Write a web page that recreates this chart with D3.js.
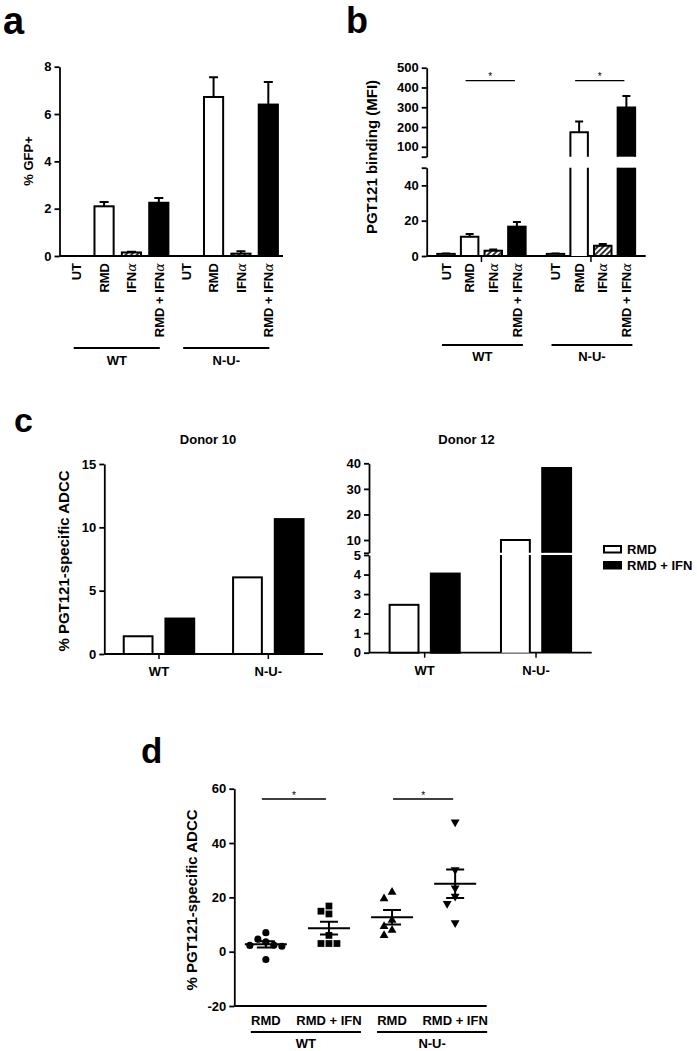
<!doctype html>
<html lang="en">
<head>
<meta charset="utf-8">
<title>RMD + IFN figure</title>
<script src="https://d3js.org/d3.v7.min.js"></script>
<style>
  body { margin: 0; background: #fff; }
  svg text { font-family: "Liberation Sans", Arial, Helvetica, sans-serif; font-weight: bold; fill: #000; }
  .axis path, .axis line { stroke: #000; stroke-width: 1.8px; }
  .axis text { font-size: 13px; font-family: "Liberation Sans", Arial, sans-serif; font-weight: bold; }
</style>
</head>
<body>
<div id="fig"></div>
<script>
// shared categories (panels a, b)
var strains = ["WT", "N-U-"];
var treatments = ["UT", "RMD", "IFNα", "RMD + IFNα"];

// panel a: % GFP+
var gfpMeanWT = [0, 2.1, 0.15, 2.25];
var gfpSemWT = [0, 0.18, 0.03, 0.2];
var gfpMeanNU = [0, 6.72, 0.1, 6.4];
var gfpSemNU = [0, 0.83, 0.1, 0.95];
var gfpTicks = [0, 2, 4, 6, 8];

// panel b: PGT121 binding (MFI), broken axis at 50
var mfiMeanWT = [1.2, 10.9, 3.0, 16.6];
var mfiSemWT = [0.2, 1.6, 0.7, 2.7];
var mfiMeanNU = [1.2, 174, 5.8, 299];
var mfiSemNU = [0.2, 54, 1.0, 58];
var mfiTicksLow = [0, 20, 40];
var mfiTicksHigh = [100, 200, 300, 400, 500];

// panel c: single donors
var adccTreat = ["RMD", "RMD + IFN"];
var donor10RMD = [1.4, 6.05];
var donor10IFN = [2.8, 10.65];
var donor12RMD = [2.45, 10];
var donor12IFN = [4.05, 38.2];
var donor10Ticks = [0, 5, 10, 15];
var donor12TicksLow = [0, 1, 2, 3, 4, 5];
var donor12TicksHigh = [10, 20, 30, 40];

// panel d: all donors
var dGroups = ["WT RMD", "WT RMD + IFN", "N-U- RMD", "N-U- RMD + IFN"];
var dLabels = ["RMD", "RMD + IFN", "RMD", "RMD + IFN"];
var dWtRmd = [7.0, 4.6, 3.6, 2.4, 2.0, 2.3, -2.9];
var dWtRmdIfn = [16.8, 14.9, 13.9, 6.0, 3.0, 3.0, 3.0];
var dNuRmd = [21.9, 19.5, 11.6, 9.3, 7.9, 6.0];
var dNuRmdIfn = [47.7, 30.1, 23.4, 20.4, 17.7, 10.6];
var dTicks = [-20, 0, 20, 40, 60];

var fills = ["#fff", "#fff", "url(#hatch)", "#000"];

var svg = d3.select("#fig").append("svg")
  .attr("width", 697).attr("height", 1051);

// hatch for IFN bars
var defs = svg.append("defs");
defs.append("pattern")
  .attr("id", "hatch")
  .attr("patternUnits", "userSpaceOnUse")
  .attr("width", 4).attr("height", 4)
  .attr("patternTransform", "rotate(45)")
  .call(function(p) {
    p.append("rect").attr("width", 4).attr("height", 4).attr("fill", "#fff");
    p.append("line").attr("x1", 1).attr("x2", 1).attr("y1", 0).attr("y2", 4)
      .attr("stroke", "#000").attr("stroke-width", 1.6);
  });

// ---- helpers ----
function panelLetter(txt, x, y, size) {
  svg.append("text").attr("x", x).attr("y", y)
    .style("font-size", size + "px").text(txt);
}

function yTitle(txt, cx, cy, size) {
  svg.append("text")
    .attr("transform", "translate(" + cx + "," + cy + ") rotate(-90)")
    .attr("dy", "0.35em")
    .style("text-anchor", "middle")
    .style("font-size", size + "px")
    .text(txt);
}

function yAxis(x, scale, ticks, hide) {
  svg.append("g").attr("class", "axis")
    .attr("transform", "translate(" + x + ",0)")
    .call(d3.axisLeft(scale).tickValues(ticks).tickSize(5).tickSizeOuter(0).tickPadding(3)
      .tickFormat(function(d) { return d === hide ? "" : d; }));
}

function xLine(x0, x1, y) {
  svg.append("line").attr("x1", x0).attr("x2", x1).attr("y1", y).attr("y2", y)
    .attr("stroke", "#000").attr("stroke-width", 1.8);
}

// bar with optional axis break (yUp used above brk)
function drawBar(x, w, v, yLow, yUp, brk, fill) {
  var y0 = yLow(0);
  if (!yUp || v <= brk) {
    if (v <= 0) return;
    svg.append("rect").attr("x", x).attr("y", yLow(v))
      .attr("width", w).attr("height", y0 - yLow(v))
      .attr("fill", fill).attr("stroke", "#000").attr("stroke-width", 2);
    return;
  }
  var yb = yLow(brk), yt = yUp(brk), yv = yUp(v);
  svg.append("rect").attr("x", x).attr("y", yb).attr("width", w).attr("height", y0 - yb).attr("fill", fill);
  svg.append("rect").attr("x", x).attr("y", yv).attr("width", w).attr("height", yt - yv).attr("fill", fill);
  svg.append("path")
    .attr("d", "M" + x + "," + y0 + "V" + yb + "M" + (x + w) + "," + y0 + "V" + yb +
               "M" + x + "," + yt + "V" + yv + "H" + (x + w) + "V" + yt)
    .attr("fill", "none").attr("stroke", "#000").attr("stroke-width", 2);
}

function errBar(cx, yFrom, yTo, cap) {
  svg.append("path")
    .attr("d", "M" + cx + "," + yFrom + "V" + yTo + "M" + (cx - cap / 2) + "," + yTo + "H" + (cx + cap / 2))
    .attr("fill", "none").attr("stroke", "#000").attr("stroke-width", 2);
}

function rotLabel(txt, cx, yTop) {
  var t = svg.append("text")
    .attr("transform", "translate(" + cx + "," + yTop + ") rotate(-90)")
    .attr("dy", "0.36em")
    .style("text-anchor", "end")
    .style("font-size", "13px");
  if (txt.indexOf("α") >= 0) {
    t.append("tspan").text(txt.replace("α", ""));
    t.append("tspan").text("α").style("font-style", "italic").style("font-weight", "normal")
      .style("font-family", "'DejaVu Serif', serif");
  } else {
    t.text(txt);
  }
}

function groupLine(x0, x1, y, label, ty) {
  xLine(x0, x1, y);
  svg.append("text").attr("x", (x0 + x1) / 2).attr("y", ty)
    .style("text-anchor", "middle").style("font-size", "13px").text(label);
}

function sigLine(x0, x1, y) {
  svg.append("line").attr("x1", x0).attr("x2", x1).attr("y1", y).attr("y2", y)
    .attr("stroke", "#000").attr("stroke-width", 1.3);
  svg.append("text").attr("x", (x0 + x1) / 2).attr("y", y - 0.5)
    .style("text-anchor", "middle").style("font-size", "10px").style("font-weight", "normal")
    .text("*");
}

// ================= panel a =================
panelLetter("a", 3, 34, 38);
var aX0 = 59.5, aX1 = 283, aY0 = 256;
var aY = d3.scaleLinear().domain([0, 8]).range([aY0, 66.7]);
var aOuter = d3.scaleBand().domain(strains).range([63, 282]);
var aInner = d3.scaleBand().domain(treatments).range([0, aOuter.bandwidth()])
  .paddingInner(0.3).paddingOuter(0.15);
yAxis(aX0, aY, gfpTicks);
xLine(aX0, aX1, aY0);
[[gfpMeanWT, gfpSemWT], [gfpMeanNU, gfpSemNU]].forEach(function(s, gi) {
  var g = strains[gi];
  treatments.forEach(function(t, i) {
    var x = aOuter(g) + aInner(t), w = aInner.bandwidth(), cx = x + w / 2;
    if (s[1][i] > 0) errBar(cx, aY(s[0][i]), aY(s[0][i] + s[1][i]), 9);
    drawBar(x, w, s[0][i], aY, null, null, fills[i]);
    rotLabel(t, cx, 263);
  });
  var c0 = aOuter(g) + aInner(treatments[0]) + aInner.bandwidth() / 2;
  var c3 = aOuter(g) + aInner(treatments[3]) + aInner.bandwidth() / 2;
  groupLine(c0 - 3, c3 + 1, 348, g, 365);
});
yTitle("% GFP+", 28, 161, 13);

// ================= panel b =================
panelLetter("b", 346, 33, 36);
var bX0 = 426.7, bX1 = 645.7, bY0 = 256;
var bYLow = d3.scaleLinear().domain([0, 50]).range([bY0, 167.7]);
var bYUp = d3.scaleLinear().domain([50, 500]).range([156.7, 67.7]);
var bOuter = d3.scaleBand().domain(strains).range([bX0, bX1]);
var bInner = d3.scaleBand().domain(treatments).range([7.5, bOuter.bandwidth() - 7.5])
  .paddingInner(0.26).paddingOuter(0.13);
yAxis(bX0, bYLow, mfiTicksLow.concat([50]), 50);
yAxis(bX0, bYUp, [50].concat(mfiTicksHigh), 50);
xLine(bX0, bX1, bY0);
function bY(v) { return v <= 50 ? bYLow(v) : bYUp(v); }
[[mfiMeanWT, mfiSemWT], [mfiMeanNU, mfiSemNU]].forEach(function(s, gi) {
  var g = strains[gi];
  var gc = bOuter(g) + bOuter.bandwidth() / 2;
  svg.append("line").attr("x1", gc).attr("x2", gc).attr("y1", bY0).attr("y2", bY0 + 6)
    .attr("stroke", "#000").attr("stroke-width", 1.5);
  treatments.forEach(function(t, i) {
    var x = bOuter(g) + bInner(t), w = bInner.bandwidth(), cx = x + w / 2;
    errBar(cx, bY(s[0][i]), bY(s[0][i] + s[1][i]), 8);
    drawBar(x, w, s[0][i], bYLow, bYUp, 50, fills[i]);
    rotLabel(t, cx, 263);
  });
  var c0 = bOuter(g) + bInner(treatments[0]) + bInner.bandwidth() / 2;
  var c1 = bOuter(g) + bInner(treatments[1]) + bInner.bandwidth() / 2;
  var c3 = bOuter(g) + bInner(treatments[3]) + bInner.bandwidth() / 2;
  groupLine(c0 - 4, c3 + 6, 345, g, 361);
  sigLine(c1 - 4, c3 - 2, 80.7);
});
yTitle("PGT121 binding (MFI)", 372, 157, 15);

// ================= panel c =================
panelLetter("c", 14, 432, 34);

// donor 10
var cX0 = 104.3, cX1 = 323, cY0 = 654;
var cY = d3.scaleLinear().domain([0, 15]).range([cY0, 464]);
var cOuter = d3.scaleBand().domain(strains).range([cX0, cX1]);
var cInner = d3.scaleBand().domain(adccTreat).range([0, cOuter.bandwidth()])
  .paddingInner(0.31).paddingOuter(0.466);
yAxis(cX0, cY, donor10Ticks);
xLine(cX0, cX1, cY0);
strains.forEach(function(g, gi) {
  var gc = cOuter(g) + cOuter.bandwidth() / 2;
  svg.append("line").attr("x1", gc).attr("x2", gc).attr("y1", cY0).attr("y2", cY0 + 5)
    .attr("stroke", "#000").attr("stroke-width", 1.5);
  svg.append("text").attr("x", gc).attr("y", 676).style("text-anchor", "middle")
    .style("font-size", "13px").text(g);
  drawBar(cOuter(g) + cInner("RMD"), cInner.bandwidth(), donor10RMD[gi], cY, null, null, "#fff");
  drawBar(cOuter(g) + cInner("RMD + IFN"), cInner.bandwidth(), donor10IFN[gi], cY, null, null, "#000");
});
svg.append("text").attr("x", 208).attr("y", 444).style("text-anchor", "middle")
  .style("font-size", "13px").text("Donor 10");
yTitle("% PGT121-specific ADCC", 64, 561, 15);

// donor 12 (broken axis at 5)
var eX0 = 369, eX1 = 591.7, eY0 = 652.7;
var eYLow = d3.scaleLinear().domain([0, 5]).range([eY0, 555]);
var eYUp = d3.scaleLinear().domain([5, 40]).range([552.8, 463.3]);
var eOuter = d3.scaleBand().domain(strains).range([eX0, eX1]);
var eInner = d3.scaleBand().domain(adccTreat).range([0, eOuter.bandwidth()])
  .paddingInner(0.3).paddingOuter(0.5);
yAxis(eX0, eYLow, donor12TicksLow);
yAxis(eX0, eYUp, [5].concat(donor12TicksHigh), 5);
xLine(eX0, eX1, eY0);
strains.forEach(function(g, gi) {
  var gc = eOuter(g) + eOuter.bandwidth() / 2;
  svg.append("line").attr("x1", gc).attr("x2", gc).attr("y1", eY0).attr("y2", eY0 + 5)
    .attr("stroke", "#000").attr("stroke-width", 1.5);
  svg.append("text").attr("x", gc).attr("y", 675).style("text-anchor", "middle")
    .style("font-size", "13px").text(g);
  drawBar(eOuter(g) + eInner("RMD"), eInner.bandwidth(), donor12RMD[gi], eYLow, eYUp, 5, "#fff");
  drawBar(eOuter(g) + eInner("RMD + IFN"), eInner.bandwidth(), donor12IFN[gi], eYLow, eYUp, 5, "#000");
});
svg.append("text").attr("x", 466.5).attr("y", 444).style("text-anchor", "middle")
  .style("font-size", "13px").text("Donor 12");

// legend
var legend = svg.append("g").attr("transform", "translate(604,546)");
adccTreat.forEach(function(t, i) {
  legend.append("rect").attr("x", 0).attr("y", i * 16).attr("width", 17).attr("height", 6.5)
    .attr("fill", i === 0 ? "#fff" : "#000").attr("stroke", "#000").attr("stroke-width", 2);
  legend.append("text").attr("x", 23).attr("y", i * 16 + 8).style("font-size", "13px").text(t);
});

// ================= panel d =================
panelLetter("d", 141, 763, 35);
var dX0 = 234.3, dX1 = 486.7, dY0 = 1006;
var dY = d3.scaleLinear().domain([-20, 60]).range([dY0, 788.7]);
var dX = d3.scaleBand().domain(dGroups).range([dX0, dX1]);
yAxis(dX0, dY, dTicks);
xLine(dX0, dX1, dY0);
function dC(g) { return dX(g) + dX.bandwidth() / 2; }

var dSeries = [dWtRmd, dWtRmdIfn, dNuRmd, dNuRmdIfn];
var dShapes = [d3.symbolCircle, d3.symbolSquare, d3.symbolTriangle, d3.symbolTriangle];
var dSizes = [40, 46, 34, 34];

dSeries.forEach(function(vals, gi) {
  var g = dGroups[gi], cx = dC(g);
  // simple beeswarm so points do not overlap
  var placed = [];
  vals.slice().sort(function(a, b) { return b - a; }).forEach(function(v) {
    var y = dY(v), offs = [0, -8, 8, -16, 16, -24, 24], k = 0;
    while (k < offs.length - 1 && placed.some(function(p) {
      return Math.hypot(p[0] - offs[k], p[1] - y) < 7.5;
    })) k++;
    placed.push([offs[k], y]);
  });
  placed.forEach(function(p) {
    svg.append("path")
      .attr("d", d3.symbol().type(dShapes[gi]).size(dSizes[gi])())
      .attr("transform", "translate(" + (cx + p[0]) + "," + p[1] + ")" + (gi === 3 ? " rotate(180)" : ""))
      .attr("fill", "#000");
  });
  var m = d3.mean(vals), sem = d3.deviation(vals) / Math.sqrt(vals.length);
  svg.append("path")
    .attr("d", "M" + (cx - 21) + "," + dY(m) + "H" + (cx + 21) +
               "M" + cx + "," + dY(m - sem) + "V" + dY(m + sem) +
               "M" + (cx - 9) + "," + dY(m + sem) + "H" + (cx + 9) +
               "M" + (cx - 9) + "," + dY(m - sem) + "H" + (cx + 9))
    .attr("fill", "none").attr("stroke", "#000").attr("stroke-width", 2);
  svg.append("text").attr("x", cx).attr("y", 1025).style("text-anchor", "middle")
    .style("font-size", "13px").text(dLabels[gi]);
});
groupLine(dC(dGroups[0]) - 15, dC(dGroups[1]) + 32, 1032, "WT", 1048);
groupLine(dC(dGroups[2]) - 15, dC(dGroups[3]) + 32, 1032, "N-U-", 1048);
sigLine(dC(dGroups[0]) - 4, dC(dGroups[1]) - 3, 799);
sigLine(dC(dGroups[2]) + 1, dC(dGroups[3]) - 2, 799);
yTitle("% PGT121-specific ADCC", 192, 900, 15);
</script>
</body>
</html>
